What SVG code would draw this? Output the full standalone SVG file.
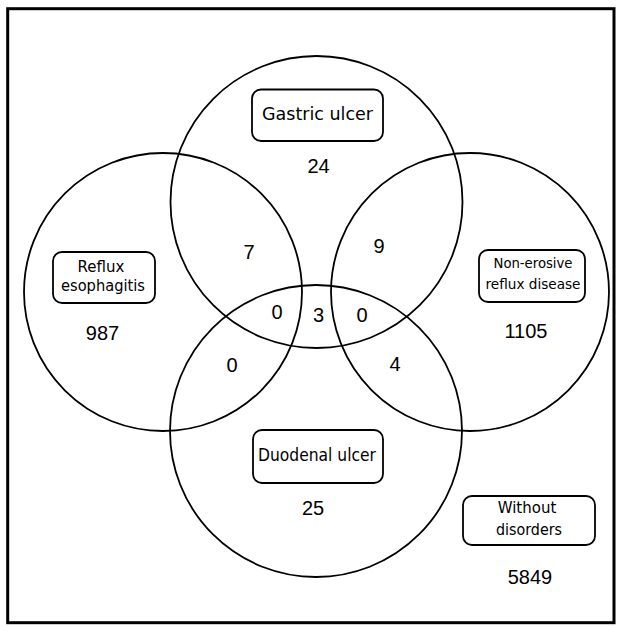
<svg xmlns="http://www.w3.org/2000/svg" width="621" height="626" viewBox="0 0 621 626">
<style>
.c{fill:none;stroke:#000;stroke-width:1.8}
.b{fill:#fff;stroke:#000;stroke-width:1.8}
.l{font-family:"DejaVu Sans",Verdana,sans-serif;fill:#000;text-anchor:middle}
.n{font-family:"Liberation Sans",Arial,sans-serif;font-size:20px;fill:#000;text-anchor:middle}
</style>
<rect x="0" y="0" width="621" height="626" fill="#fff"/>
<rect x="7.7" y="8.7" width="606.3" height="614" fill="none" stroke="#000" stroke-width="3"/>
<g id="connectors">
<circle id="gastric-circle" class="c" cx="316.5" cy="202" r="146"/>
<circle id="duodenal-circle" class="c" cx="316" cy="431" r="146"/>
<circle id="reflux-circle" class="c" cx="163" cy="292" r="139"/>
<circle id="nerd-circle" class="c" cx="470" cy="292" r="139"/>
</g>
<g id="gastric">
<rect class="b" x="252" y="89.5" width="131" height="51.5" rx="9"/>
<text class="l" x="317.5" y="120" font-size="17.5" textLength="111" lengthAdjust="spacingAndGlyphs">Gastric ulcer</text>
<text class="n" x="318.5" y="173">24</text>
</g>
<g id="duodenal">
<rect class="b" x="253" y="430" width="130" height="53" rx="9"/>
<text class="l" x="317" y="461" font-size="17.5" textLength="118" lengthAdjust="spacingAndGlyphs">Duodenal ulcer</text>
<text class="n" x="313" y="515">25</text>
</g>
<g id="reflux">
<rect class="b" x="53" y="252" width="102" height="51" rx="9"/>
<text class="l" x="101" y="272" font-size="15">Reflux</text>
<text class="l" x="103" y="291" font-size="15" textLength="84" lengthAdjust="spacingAndGlyphs">esophagitis</text>
<text class="n" x="102.5" y="340">987</text>
</g>
<g id="nerd">
<rect class="b" x="479" y="250" width="106" height="52" rx="9"/>
<text class="l" x="533" y="268" font-size="13.5" textLength="79" lengthAdjust="spacingAndGlyphs">Non-erosive</text>
<text class="l" x="533" y="289" font-size="13.5" textLength="95" lengthAdjust="spacingAndGlyphs">reflux disease</text>
<text class="n" x="526" y="338">1105</text>
</g>
<g id="without">
<rect class="b" x="463" y="496" width="132" height="49" rx="9"/>
<text class="l" x="527" y="513" font-size="15">Without</text>
<text class="l" x="529" y="535" font-size="15" textLength="66" lengthAdjust="spacingAndGlyphs">disorders</text>
<text class="n" x="530" y="584">5849</text>
</g>
<g id="intersections">
<text class="n" x="249" y="259">7</text>
<text class="n" x="379" y="253">9</text>
<text class="n" x="277" y="319">0</text>
<text class="n" x="318.5" y="322">3</text>
<text class="n" x="362" y="322">0</text>
<text class="n" x="232" y="372">0</text>
<text class="n" x="395" y="371">4</text>
</g>
</svg>
